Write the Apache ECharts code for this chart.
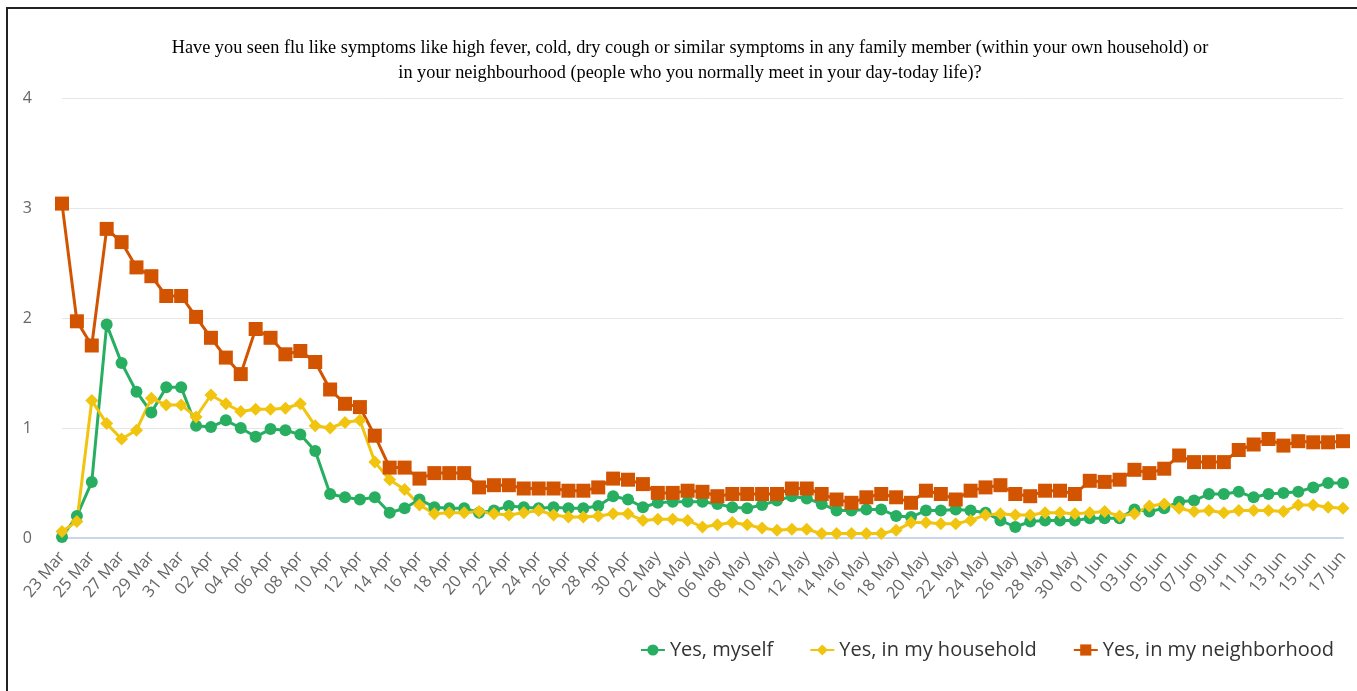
<!DOCTYPE html>
<html>
<head>
<meta charset="utf-8">
<title>Flu like symptoms</title>
<script src="https://cdn.jsdelivr.net/npm/echarts@6/dist/echarts.min.js"></script>
<style>
  html, body { margin: 0; padding: 0; background: #fff; overflow: hidden; }
  #frame { position: absolute; left: 6px; top: 7px; width: 1400px; height: 800px;
           border-left: 2px solid #222; border-top: 2px solid #222; }
  #main { position: absolute; left: 0; top: 0; width: 1357px; height: 691px; }
</style>
</head>
<body>
<div id="frame"></div>
<div id="main"></div>
<script>
// one value per day, 23 Mar .. 17 Jun
const months = [['Mar', 23, 31], ['Apr', 1, 30], ['May', 1, 31], ['Jun', 1, 17]];
const days = [];
months.forEach(([m, a, b]) => {
    for (let d = a; d <= b; d++) days.push((d < 10 ? '0' + d : '' + d) + ' ' + m);
});

const myself = [
    0.01, 0.20, 0.51, 1.94, 1.59, 1.33, 1.14, 1.37, 1.37, 1.02,
    1.01, 1.07, 1.00, 0.92, 0.99, 0.98, 0.94, 0.79, 0.40, 0.37,
    0.35, 0.37, 0.23, 0.27, 0.35, 0.28, 0.27, 0.27, 0.23, 0.25,
    0.29, 0.28, 0.27, 0.28, 0.27, 0.27, 0.29, 0.38, 0.35, 0.28,
    0.32, 0.33, 0.33, 0.33, 0.31, 0.28, 0.27, 0.30, 0.34, 0.38,
    0.36, 0.31, 0.25, 0.25, 0.26, 0.26, 0.20, 0.19, 0.25, 0.25,
    0.26, 0.25, 0.23, 0.16, 0.10, 0.15, 0.16, 0.16, 0.16, 0.18,
    0.18, 0.18, 0.26, 0.24, 0.27, 0.33, 0.34, 0.40, 0.40, 0.42,
    0.37, 0.40, 0.41, 0.42, 0.46, 0.50, 0.50
];

const household = [
    0.06, 0.15, 1.25, 1.04, 0.90, 0.98, 1.27, 1.21, 1.21, 1.10,
    1.30, 1.22, 1.15, 1.17, 1.17, 1.18, 1.22, 1.02, 1.00, 1.05,
    1.07, 0.69, 0.53, 0.44, 0.30, 0.22, 0.23, 0.23, 0.24, 0.22,
    0.21, 0.23, 0.25, 0.21, 0.19, 0.19, 0.20, 0.22, 0.22, 0.16,
    0.17, 0.17, 0.16, 0.10, 0.12, 0.14, 0.12, 0.09, 0.07, 0.08,
    0.08, 0.04, 0.04, 0.04, 0.04, 0.04, 0.07, 0.14, 0.14, 0.13,
    0.13, 0.16, 0.21, 0.22, 0.21, 0.21, 0.23, 0.23, 0.22, 0.23,
    0.24, 0.20, 0.22, 0.29, 0.31, 0.27, 0.24, 0.25, 0.23, 0.25,
    0.25, 0.25, 0.24, 0.30, 0.30, 0.28, 0.27
];

const neighborhood = [
    3.04, 1.97, 1.75, 2.81, 2.69, 2.46, 2.38, 2.20, 2.20, 2.01,
    1.82, 1.64, 1.49, 1.90, 1.82, 1.67, 1.70, 1.60, 1.35, 1.22,
    1.19, 0.93, 0.64, 0.64, 0.54, 0.59, 0.59, 0.59, 0.46, 0.48,
    0.48, 0.45, 0.45, 0.45, 0.43, 0.43, 0.46, 0.54, 0.53, 0.49,
    0.41, 0.41, 0.43, 0.42, 0.38, 0.40, 0.40, 0.40, 0.40, 0.45,
    0.45, 0.40, 0.35, 0.32, 0.37, 0.40, 0.37, 0.32, 0.43, 0.40,
    0.35, 0.43, 0.46, 0.48, 0.40, 0.38, 0.43, 0.43, 0.40, 0.52,
    0.51, 0.53, 0.62, 0.59, 0.63, 0.75, 0.69, 0.69, 0.69, 0.80,
    0.85, 0.90, 0.84, 0.88, 0.87, 0.87, 0.88
];

const titleText = 'Have you seen flu like symptoms like high fever, cold, dry cough or similar symptoms in any family member (within your own household) or\n'
    + 'in your neighbourhood (people who you normally meet in your day-today life)?';

const font = '"Open Sans", "DejaVu Sans", sans-serif';

function line(name, data, color, symbol, size) {
    return {
        name: name,
        type: 'line',
        data: data,
        symbol: symbol,
        symbolSize: size,
        showAllSymbol: true,
        lineStyle: { color: color, width: 3 },
        itemStyle: { color: color },
        emphasis: { disabled: true }
    };
}

const chart = echarts.init(document.getElementById('main'), null, { renderer: 'canvas' });
chart.setOption({
    animation: false,
    backgroundColor: 'transparent',
    title: {
        text: titleText,
        left: 685,
        top: 31,
        textAlign: 'center',
        textStyle: {
            fontFamily: '"Liberation Serif", "Times New Roman", serif',
            fontWeight: 'normal',
            fontSize: 18.3,
            lineHeight: 25,
            color: '#000'
        }
    },
    grid: { left: 62, right: 14, top: 98, bottom: 153, containLabel: false },
    legend: {
        right: 18,
        top: 635,
        itemGap: 36,
        itemWidth: 24,
        itemHeight: 14,
        textStyle: { fontFamily: font, fontSize: 20, color: '#333' },
        data: ['Yes, myself', 'Yes, in my household', 'Yes, in my neighborhood']
    },
    xAxis: {
        type: 'category',
        data: days,
        boundaryGap: false,
        axisLine: { lineStyle: { color: '#ccd6eb', width: 2 } },
        axisTick: { show: false },
        axisLabel: {
            interval: 1,
            rotate: 50,
            margin: 16,
            fontFamily: font,
            fontSize: 16.5,
            color: '#666'
        },
        splitLine: { show: false }
    },
    yAxis: {
        type: 'value',
        min: 0,
        max: 4,
        interval: 1,
        axisLine: { show: false },
        axisTick: { show: false },
        axisLabel: { margin: 30, fontFamily: font, fontSize: 16, color: '#666' },
        splitLine: { lineStyle: { color: '#e6e6e6', width: 1 } }
    },
    series: [
        line('Yes, myself', myself, '#27ae60', 'circle', 12),
        line('Yes, in my household', household, '#f1c40f', 'diamond', 13),
        line('Yes, in my neighborhood', neighborhood, '#d35400', 'rect', 14)
    ]
});
</script>
</body>
</html>
